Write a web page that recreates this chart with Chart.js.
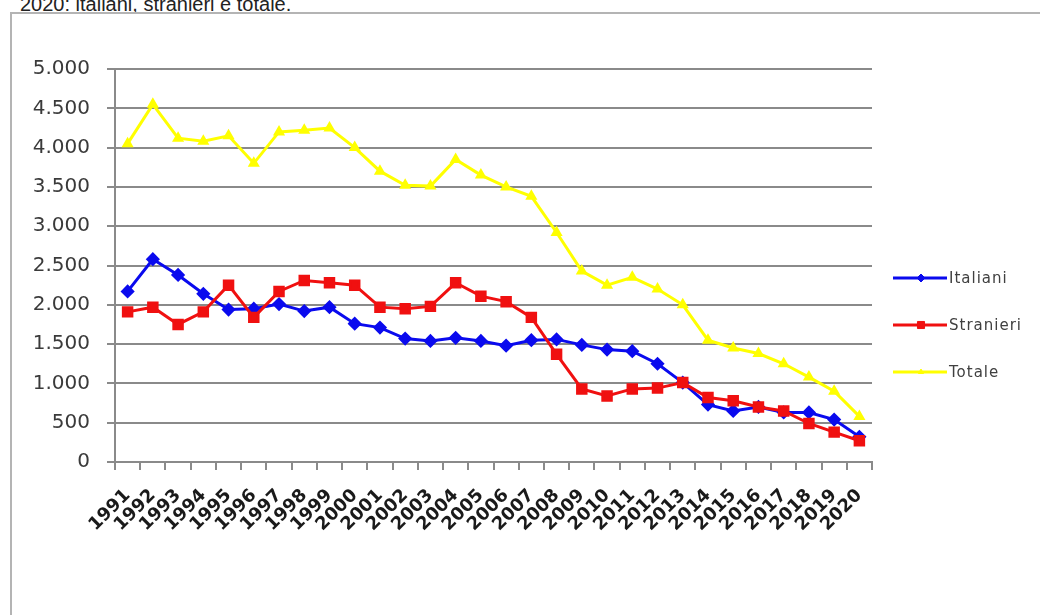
<!DOCTYPE html>
<html>
<head>
<meta charset="utf-8">
<script src="https://cdn.jsdelivr.net/npm/chart.js@4/dist/chart.umd.min.js"></script>
<style>
  body { margin: 0; background: #fff; width: 1040px; height: 615px; overflow: hidden; position: relative; }
  #title { position: absolute; left: 20px; top: -7px; font: 20px "Liberation Sans", Arial, sans-serif; color: #222; white-space: nowrap; }
  #box { position: absolute; left: 10px; top: 12px; width: 1030px; height: 603px; box-sizing: border-box;
         border-left: 2px solid #b4b4b4; border-top: 2px solid #b4b4b4; }
  canvas { display: block; }
</style>
</head>
<body>
<div id="title">2020: italiani, stranieri e totale.</div>
<div id="box"><canvas id="chart" width="1028" height="601"></canvas></div>
<script>
// anni 1991-2020
const years = ["1991", "1992", "1993", "1994", "1995", "1996", "1997", "1998", "1999", "2000",
  "2001", "2002", "2003", "2004", "2005", "2006", "2007", "2008", "2009", "2010",
  "2011", "2012", "2013", "2014", "2015", "2016", "2017", "2018", "2019", "2020"];

const italiani = [2170, 2580, 2380, 2140, 1940, 1950, 2010, 1920, 1970, 1760,
  1710, 1570, 1540, 1580, 1540, 1480, 1550, 1560, 1490, 1430,
  1410, 1250, 1010, 730, 650, 700, 630, 630, 540, 320];

const stranieri = [1910, 1970, 1750, 1910, 2250, 1840, 2170, 2310, 2280, 2250,
  1970, 1950, 1980, 2280, 2110, 2040, 1840, 1370, 930, 840,
  930, 940, 1010, 820, 780, 700, 650, 490, 380, 270];

const totale = [4050, 4550, 4120, 4080, 4150, 3800, 4200, 4220, 4250, 4000,
  3700, 3520, 3510, 3850, 3650, 3500, 3380, 2920, 2430, 2250,
  2350, 2200, 2000, 1550, 1450, 1380, 1250, 1080, 900, 580];

const seriesNames = ["Italiani", "Stranieri", "Totale"];

const gridColor = "#8a8a8a";

// legenda in stile Excel: linea + marcatore
const excelLegend = {
  id: "excelLegend",
  afterDraw(chart) {
    const ctx = chart.ctx;
    const rows = [264, 311, 358];
    chart.data.datasets.forEach((ds, i) => {
      const y = rows[i];
      ctx.save();
      ctx.strokeStyle = ds.borderColor;
      ctx.lineWidth = 3;
      ctx.beginPath();
      ctx.moveTo(881, y);
      ctx.lineTo(935, y);
      ctx.stroke();
      ctx.fillStyle = ds.borderColor;
      ctx.lineWidth = 1;
      Chart.helpers.drawPoint(ctx, {
        pointStyle: ds.pointStyle, radius: ds.pointRadius - 1, borderWidth: 1
      }, 909, y);
      ctx.font = "15px 'DejaVu Sans'";
      ctx.letterSpacing = "1px";
      ctx.fillStyle = "#404040";
      ctx.textBaseline = "middle";
      ctx.fillText(ds.label, 937, y + 1);
      ctx.restore();
    });
  }
};

new Chart(document.getElementById("chart"), {
  type: "line",
  data: {
    labels: years,
    datasets: [
      {
        label: seriesNames[0],
        data: italiani,
        borderColor: "#0a0aee",
        backgroundColor: "#0a0aee",
        pointStyle: "rectRot",
        pointRadius: 5,
        borderWidth: 3,
        order: 3
      },
      {
        label: seriesNames[1],
        data: stranieri,
        borderColor: "#f01010",
        backgroundColor: "#f01010",
        pointStyle: "rect",
        pointRadius: 6,
        borderWidth: 3,
        order: 2
      },
      {
        label: seriesNames[2],
        data: totale,
        borderColor: "#ffff00",
        backgroundColor: "#ffff00",
        pointStyle: "triangle",
        pointRadius: 4,
        borderWidth: 3,
        order: 1
      }
    ]
  },
  options: {
    responsive: false,
    animation: false,
    devicePixelRatio: 1,
    layout: { padding: { top: 55, right: 168, left: 0, bottom: 0 } },
    plugins: { legend: { display: false }, tooltip: { enabled: false } },
    elements: { line: { tension: 0 } },
    scales: {
      x: {
        offset: true,
        grid: { offset: true, drawOnChartArea: false, tickLength: 8, color: gridColor, lineWidth: 2 },
        border: { color: gridColor, width: 2 },
        ticks: {
          autoSkip: false, minRotation: 45, maxRotation: 45, padding: 15,
          color: "#1a1a1a", font: { family: "DejaVu Sans", size: 18, weight: "bold" }
        },
        afterFit(scale) { scale.height = 153; }
      },
      y: {
        min: 0, max: 5000,
        grid: { tickLength: 8, color: gridColor, lineWidth: 2 },
        border: { color: gridColor, width: 2 },
        ticks: {
          stepSize: 500, padding: 17,
          color: "#3a3a3a", font: { family: "DejaVu Sans", size: 20 },
          callback: (v) => String(v).replace(/\B(?=(\d{3})+(?!\d))/g, ".")
        },
        afterFit(scale) { scale.width = 103; }
      }
    }
  },
  plugins: [excelLegend]
});
</script>
</body>
</html>
